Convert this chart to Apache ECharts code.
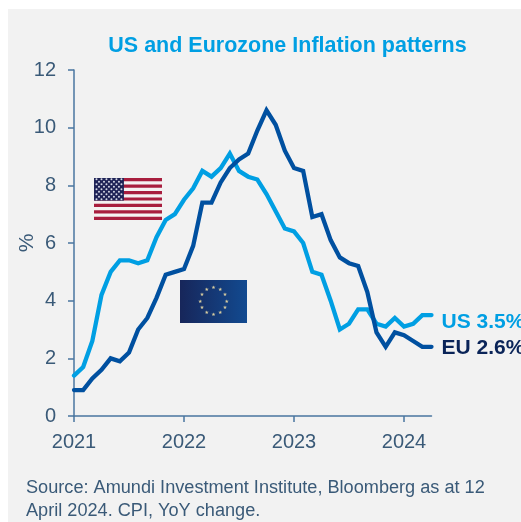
<!DOCTYPE html>
<html>
<head>
<meta charset="utf-8">
<style>
  html, body { margin: 0; padding: 0; background: #fff; }
  #main { width: 521px; height: 522px; }
</style>
<script src="https://cdn.jsdelivr.net/npm/echarts@6/dist/echarts.min.js"></script>
</head>
<body>
<div id="main"></div>
<script>
// 月度数据 Jan 2021 - Apr 2024
const months = []
for (let y = 2021; y <= 2024; y++) {
  for (let m = 1; m <= 12; m++) {
    if (y === 2024 && m > 4) break
    months.push(y + "-" + m)
  }
}
const usValues = [
  1.4, 1.7, 2.6, 4.2, 5.0, 5.4, 5.4, 5.3, 5.4, 6.2, 6.8, 7.0,
  7.5, 7.9, 8.5, 8.3, 8.6, 9.1, 8.5, 8.3, 8.2, 7.7, 7.1, 6.5,
  6.4, 6.0, 5.0, 4.9, 4.0, 3.0, 3.2, 3.7, 3.7, 3.2, 3.1, 3.4,
  3.1, 3.2, 3.5, 3.5
]
const euValues = [
  0.9, 0.9, 1.3, 1.6, 2.0, 1.9, 2.2, 3.0, 3.4, 4.1, 4.9, 5.0,
  5.1, 5.9, 7.4, 7.4, 8.1, 8.6, 8.9, 9.1, 9.9, 10.6, 10.1, 9.2,
  8.6, 8.5, 6.9, 7.0, 6.1, 5.5, 5.3, 5.2, 4.3, 2.9, 2.4, 2.9,
  2.8, 2.6, 2.4, 2.4
]
const usLabel = "US 3.5%"
const euLabel = "EU 2.6%"
const titleText = "US and Eurozone Inflation patterns"
const sourceText = "Source: Amundi Investment Institute, Bloomberg as at 12\nApril 2024. CPI, YoY change."

const axisColor = "#4a76a0"
const textColor = "#3a5a78"
const font = "Liberation Sans"

// 美国国旗
function usFlag(x, y, w, h) {
  const parts = []
  const sh = h / 13
  parts.push({ type: "rect", shape: { x, y, width: w, height: h }, style: { fill: "#f4f2f2" } })
  for (let i = 0; i < 13; i += 2) {
    parts.push({ type: "rect", shape: { x, y: y + i * sh, width: w, height: sh }, style: { fill: "#a81e3e" } })
  }
  const cw = w * 0.44
  const ch = sh * 7
  parts.push({ type: "rect", shape: { x, y, width: cw, height: ch }, style: { fill: "#1f2356" } })
  for (let r = 0; r < 9; r++) {
    const n = r % 2 ? 5 : 6
    for (let c = 0; c < n; c++) {
      parts.push({
        type: "circle",
        shape: { cx: x + (c + (r % 2 ? 1 : 0.5)) * cw / 6, cy: y + (r + 0.5) * ch / 9, r: 1 },
        style: { fill: "#d5d8e6" }
      })
    }
  }
  return parts
}

// 欧盟旗
function euFlag(x, y, w, h) {
  const parts = [{
    type: "rect",
    shape: { x, y, width: w, height: h },
    style: {
      fill: {
        type: "linear", x: 0, y: 0, x2: 1, y2: 0,
        colorStops: [{ offset: 0, color: "#17265a" }, { offset: 1, color: "#124a90" }]
      }
    }
  }]
  for (let i = 0; i < 12; i++) {
    const a = i * Math.PI / 6
    parts.push({
      type: "text",
      style: {
        x: x + w / 2 + 13.3 * Math.sin(a),
        y: y + h / 2 - 13.3 * Math.cos(a),
        text: "★",
        font: "5px DejaVu Sans",
        fill: "#d8cda0",
        align: "center",
        verticalAlign: "middle"
      }
    })
  }
  return parts
}

const chart = echarts.init(document.getElementById("main"), null, { renderer: "canvas" })

chart.setOption({
  animation: false,
  backgroundColor: "#ffffff",
  title: {
    text: titleText,
    left: 282.5,
    top: 30,
    textAlign: "center",
    textStyle: { color: "#009fe3", fontFamily: font, fontSize: 21.5, fontWeight: "bold" }
  },
  grid: { left: 74, right: 89.5, top: 70, bottom: 106, outerBoundsMode: "none" },
  xAxis: {
    type: "category",
    data: months,
    boundaryGap: false,
    axisLine: { onZero: false, lineStyle: { color: axisColor, width: 1.5 } },
    axisTick: { alignWithLabel: true, interval: 11, length: 6, lineStyle: { color: axisColor, width: 1.5 } },
    axisLabel: {
      interval: 11,
      color: textColor,
      fontFamily: font,
      fontSize: 20,
      margin: 16,
      formatter: (v) => v.split("-")[0]
    },
    splitLine: { show: false }
  },
  yAxis: {
    type: "value",
    min: 0,
    max: 12,
    interval: 2,
    name: "%",
    nameLocation: "middle",
    nameGap: 36,
    nameRotate: 90,
    nameMoveOverlap: false,
    nameTextStyle: { color: textColor, fontFamily: font, fontSize: 21 },
    axisLine: { show: true, lineStyle: { color: axisColor, width: 1.5 } },
    axisTick: { show: true, length: 6, lineStyle: { color: axisColor, width: 1.5 } },
    axisLabel: { color: textColor, fontFamily: font, fontSize: 20, margin: 18 },
    splitLine: { show: false }
  },
  series: [
    {
      name: "US",
      type: "line",
      data: usValues,
      showSymbol: false,
      z: 2,
      lineStyle: { color: "#009fe3", width: 4.3, cap: "round", join: "miter" },
      itemStyle: { color: "#009fe3" },
      endLabel: {
        show: true,
        formatter: usLabel,
        color: "#009fe3",
        fontFamily: font,
        fontSize: 21,
        fontWeight: "bold",
        distance: 10,
        offset: [0, 7]
      }
    },
    {
      name: "EU",
      type: "line",
      data: euValues,
      showSymbol: false,
      z: 3,
      lineStyle: { color: "#0050a0", width: 4.3, cap: "round", join: "miter" },
      itemStyle: { color: "#0050a0" },
      endLabel: {
        show: true,
        formatter: euLabel,
        color: "#0a2458",
        fontFamily: font,
        fontSize: 21,
        fontWeight: "bold",
        distance: 10,
        offset: [0, 1]
      }
    }
  ],
  graphic: [
    { type: "rect", z: -10, silent: true, shape: { x: 8, y: 9, width: 513, height: 513 }, style: { fill: "#f2f2f2" } },
    { type: "group", z: 10, silent: true, children: usFlag(94, 178, 68, 42) },
    { type: "group", z: 10, silent: true, children: euFlag(180, 280, 67, 43) },
    {
      type: "text",
      z: 10,
      silent: true,
      style: {
        x: 26,
        y: 476,
        text: sourceText,
        font: "18.15px Liberation Sans",
        lineHeight: 23,
        fill: textColor
      }
    }
  ]
})
</script>
</body>
</html>
